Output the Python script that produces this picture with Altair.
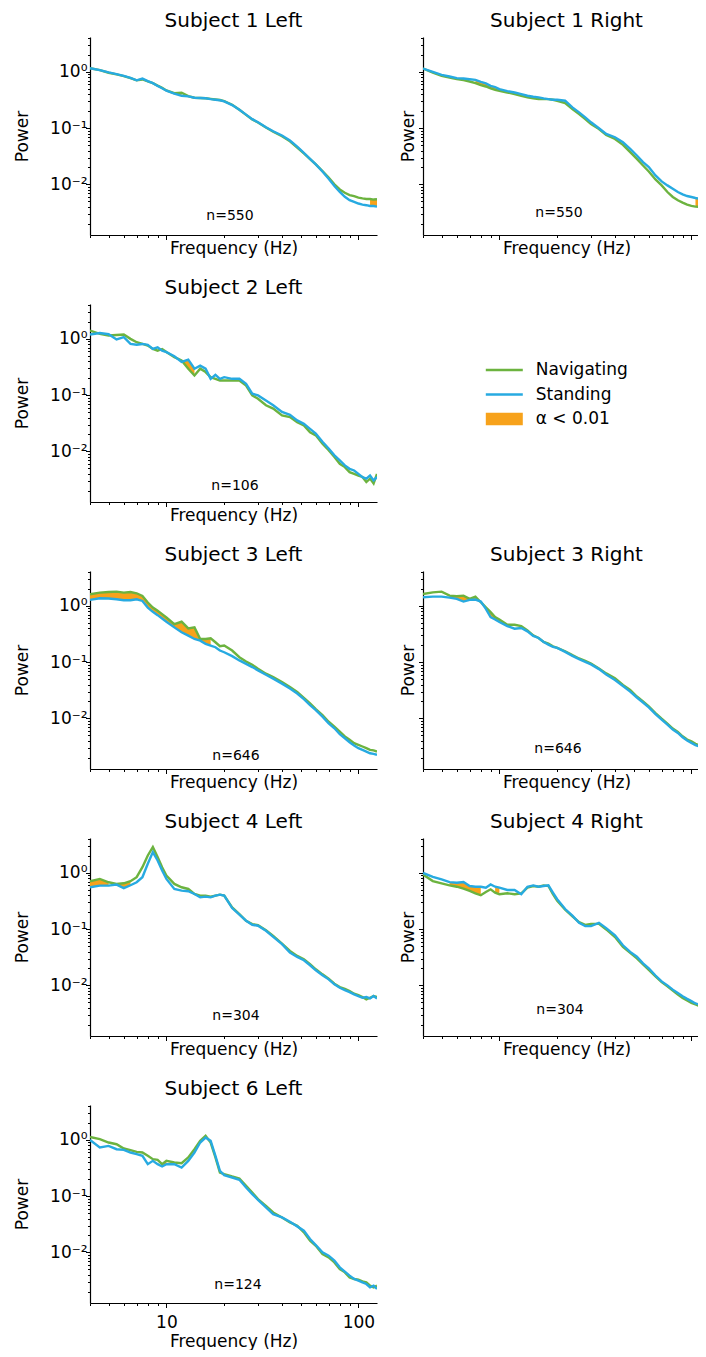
import altair as alt
import numpy as np
import pandas as pd

FONT = "DejaVu Sans"
GREEN = "#6cb33f"
BLUE = "#27aae1"
ORANGE = "#f7a21b"

# frequency grid (Hz)
freqs = [4, 4.5, 5, 5.5, 6, 6.5, 7, 7.5, 8, 8.5, 9, 9.5,
         10, 11, 12, 13, 14, 15, 16, 17, 18, 19, 20,
         22, 24, 26, 28, 30, 33, 36,
         40, 44, 48, 52, 56, 60,
         65, 70, 75, 80, 85, 90, 95, 100, 105, 110, 115, 120, 125]

# log10(power)
s1l_nav = [0.065, 0.03, -0.015, -0.045, -0.075, -0.11, -0.15, -0.135, -0.17, -0.2, -0.245, -0.285,
           -0.33, -0.38, -0.37, -0.43, -0.46, -0.465, -0.47, -0.48, -0.49, -0.5, -0.52,
           -0.585, -0.675, -0.765, -0.845, -0.9, -0.99, -1.065,
           -1.145, -1.235, -1.345, -1.45, -1.55, -1.645,
           -1.765, -1.88, -2.0, -2.09, -2.15, -2.19, -2.21, -2.235, -2.25, -2.26, -2.26, -2.27, -2.265]
s1l_sta = [0.065, 0.03, -0.01, -0.04, -0.07, -0.105, -0.15, -0.12, -0.165, -0.2, -0.25, -0.29,
           -0.335, -0.385, -0.425, -0.435, -0.46, -0.465, -0.47, -0.485, -0.495, -0.505, -0.525,
           -0.59, -0.675, -0.76, -0.84, -0.895, -0.985, -1.055,
           -1.13, -1.22, -1.33, -1.44, -1.545, -1.645,
           -1.77, -1.9, -2.03, -2.135, -2.22, -2.28, -2.31, -2.34, -2.36, -2.37, -2.385, -2.385, -2.395]

s1r_nav = [0.059, -0.012, -0.071, -0.1, -0.13, -0.147, -0.171, -0.201, -0.236, -0.26, -0.295, -0.319,
           -0.336, -0.366, -0.395, -0.425, -0.454, -0.472, -0.484, -0.484, -0.484, -0.496, -0.513,
           -0.554, -0.661, -0.749, -0.838, -0.926, -1.015, -1.121,
           -1.192, -1.298, -1.428, -1.546, -1.664, -1.77,
           -1.912, -2.018, -2.136, -2.224, -2.283, -2.324, -2.36, -2.383, -2.395, -2.401, -2.413, -2.431, -2.442]
s1r_sta = [0.059, 0.0, -0.053, -0.083, -0.112, -0.118, -0.13, -0.142, -0.177, -0.206, -0.248, -0.271,
           -0.307, -0.342, -0.366, -0.395, -0.425, -0.442, -0.454, -0.472, -0.484, -0.496, -0.496,
           -0.513, -0.631, -0.72, -0.808, -0.897, -1.003, -1.103,
           -1.162, -1.251, -1.369, -1.487, -1.605, -1.693,
           -1.841, -1.947, -2.018, -2.077, -2.136, -2.177, -2.207, -2.224, -2.242, -2.254, -2.271, -2.283, -2.313]

s2l_nav = [0.148, 0.09, 0.06, 0.07, 0.077, 0.0, -0.06, -0.09, -0.12, -0.18, -0.21, -0.18,
           -0.235, -0.325, -0.385, -0.53, -0.65, -0.53, -0.59, -0.68, -0.71, -0.74, -0.74,
           -0.74, -0.74, -0.83, -1.005, -1.065, -1.18, -1.24,
           -1.36, -1.39, -1.48, -1.54, -1.66, -1.715,
           -1.865, -1.98, -2.1, -2.22, -2.28, -2.37, -2.4, -2.43, -2.455, -2.545, -2.485, -2.57, -2.4]
s2l_sta = [0.077, 0.105, 0.083, -0.01, 0.03, -0.09, -0.105, -0.09, -0.105, -0.18, -0.15, -0.21,
           -0.235, -0.31, -0.41, -0.37, -0.53, -0.475, -0.53, -0.71, -0.64, -0.71, -0.68,
           -0.71, -0.71, -0.8, -0.975, -1.005, -1.095, -1.18,
           -1.3, -1.35, -1.45, -1.51, -1.6, -1.685,
           -1.83, -1.95, -2.07, -2.16, -2.25, -2.31, -2.34, -2.4, -2.46, -2.485, -2.43, -2.515, -2.455]

s3l_nav = [0.206, 0.235, 0.247, 0.253, 0.235, 0.247, 0.224, 0.176, 0.059, -0.03, -0.088, -0.147,
           -0.206, -0.324, -0.282, -0.4, -0.382, -0.59, -0.588, -0.576, -0.647, -0.718, -0.706,
           -0.794, -0.912, -0.988, -1.047, -1.118, -1.206, -1.265,
           -1.353, -1.441, -1.529, -1.635, -1.735, -1.835,
           -1.94, -2.06, -2.147, -2.235, -2.32, -2.38, -2.44, -2.47, -2.5, -2.53, -2.56, -2.57, -2.59]
s3l_sta = [0.106, 0.135, 0.13, 0.118, 0.1, 0.1, 0.118, 0.088, -0.03, -0.106, -0.165, -0.224,
           -0.282, -0.382, -0.47, -0.53, -0.588, -0.618, -0.676, -0.706, -0.735, -0.794, -0.824,
           -0.894, -0.97, -1.03, -1.088, -1.147, -1.224, -1.294,
           -1.382, -1.47, -1.559, -1.659, -1.765, -1.853,
           -1.97, -2.088, -2.176, -2.282, -2.353, -2.424, -2.482, -2.53, -2.56, -2.59, -2.62, -2.63, -2.647]

s3r_nav = [0.212, 0.241, 0.253, 0.182, 0.171, 0.182, 0.124, 0.165, 0.065, -0.024, -0.112, -0.2,
           -0.241, -0.335, -0.335, -0.359, -0.435, -0.524, -0.571, -0.641, -0.671, -0.718, -0.747,
           -0.806, -0.876, -0.935, -0.976, -1.024, -1.112, -1.2,
           -1.288, -1.406, -1.494, -1.612, -1.7, -1.788,
           -1.906, -2.006, -2.094, -2.182, -2.241, -2.318, -2.376, -2.406, -2.453, -2.476, -2.5, -2.524, -2.54]
s3r_sta = [0.153, 0.165, 0.165, 0.147, 0.124, 0.076, 0.106, 0.112, 0.076, -0.053, -0.2, -0.241,
           -0.288, -0.359, -0.406, -0.394, -0.453, -0.535, -0.571, -0.641, -0.688, -0.729, -0.747,
           -0.818, -0.888, -0.947, -0.994, -1.041, -1.124, -1.218,
           -1.318, -1.424, -1.524, -1.629, -1.718, -1.806,
           -1.924, -2.024, -2.112, -2.2, -2.259, -2.335, -2.394, -2.435, -2.476, -2.5, -2.524, -2.541, -2.56]

s4l_nav = [-0.149, -0.107, -0.167, -0.196, -0.185, -0.149, -0.077, 0.101, 0.31, 0.458, 0.28, 0.101,
           -0.048, -0.196, -0.256, -0.286, -0.375, -0.405, -0.405, -0.423, -0.405, -0.387, -0.405,
           -0.613, -0.732, -0.851, -0.911, -0.929, -1.018, -1.119,
           -1.256, -1.387, -1.476, -1.536, -1.625, -1.714,
           -1.804, -1.881, -1.97, -2.03, -2.06, -2.101, -2.149, -2.173, -2.208, -2.25, -2.22, -2.19, -2.208]
s4l_sta = [-0.256, -0.226, -0.226, -0.208, -0.27, -0.22, -0.167, -0.077, 0.161, 0.369, 0.22, 0.042,
           -0.107, -0.286, -0.315, -0.327, -0.375, -0.435, -0.423, -0.435, -0.405, -0.387, -0.405,
           -0.625, -0.744, -0.851, -0.923, -0.94, -1.03, -1.137,
           -1.268, -1.417, -1.494, -1.554, -1.643, -1.732,
           -1.821, -1.893, -1.982, -2.042, -2.083, -2.119, -2.161, -2.19, -2.22, -2.208, -2.232, -2.19, -2.232]

s4r_nav = [-0.029, -0.146, -0.187, -0.222, -0.246, -0.281, -0.322, -0.363, -0.398, -0.339, -0.292, -0.351,
           -0.38, -0.363, -0.38, -0.363, -0.263, -0.234, -0.246, -0.222, -0.234, -0.38, -0.497,
           -0.655, -0.772, -0.877, -0.924, -0.906, -0.906, -1.006,
           -1.14, -1.316, -1.421, -1.52, -1.626, -1.725,
           -1.842, -1.942, -2.018, -2.094, -2.164, -2.222, -2.269, -2.31, -2.339, -2.368, -2.398, -2.427, -2.44]
s4r_sta = [0.0, -0.07, -0.117, -0.164, -0.175, -0.164, -0.234, -0.246, -0.246, -0.263, -0.205, -0.246,
           -0.263, -0.304, -0.304, -0.38, -0.246, -0.222, -0.246, -0.234, -0.222, -0.351, -0.468,
           -0.643, -0.76, -0.889, -0.947, -0.947, -0.889, -0.982,
           -1.111, -1.287, -1.404, -1.491, -1.608, -1.696,
           -1.825, -1.93, -2.0, -2.076, -2.135, -2.193, -2.24, -2.281, -2.322, -2.339, -2.368, -2.398, -2.41]

s6l_nav = [0.053, 0.012, -0.047, -0.077, -0.154, -0.183, -0.213, -0.225, -0.284, -0.343, -0.355, -0.432,
           -0.373, -0.402, -0.414, -0.314, -0.166, -0.018, 0.071, -0.047, -0.31, -0.58, -0.609,
           -0.651, -0.686, -0.817, -0.935, -1.053, -1.172, -1.29,
           -1.379, -1.467, -1.527, -1.645, -1.793, -1.882,
           -2.03, -2.089, -2.178, -2.296, -2.355, -2.444, -2.473, -2.485, -2.515, -2.533, -2.592, -2.621, -2.592]
s6l_sta = [0.0, -0.136, -0.107, -0.166, -0.178, -0.225, -0.254, -0.284, -0.432, -0.373, -0.432, -0.473,
           -0.432, -0.432, -0.491, -0.373, -0.225, -0.047, 0.041, -0.018, -0.284, -0.55, -0.627,
           -0.669, -0.71, -0.846, -0.964, -1.065, -1.201, -1.32,
           -1.379, -1.456, -1.538, -1.615, -1.763, -1.87,
           -2.0, -2.059, -2.148, -2.266, -2.343, -2.414, -2.473, -2.503, -2.533, -2.562, -2.621, -2.592, -2.651]

# frequency ranges where alpha < 0.01
s1l_sig = [(11, 12), (115, 125)]
s1r_sig = [(7.5, 11), (105, 120)]
s2l_sig = [(12, 14)]
s3l_sig = [(4, 17)]
s3r_sig = [(5.5, 11)]
s4l_sig = [(4, 5), (5.5, 6.5)]
s4r_sig = [(5.5, 8), (9.5, 10.5)]
s6l_sig = [(9.5, 10.5)]

titles = ["Subject 1 Left", "Subject 1 Right", "Subject 2 Left", "Subject 3 Left",
          "Subject 3 Right", "Subject 4 Left", "Subject 4 Right", "Subject 6 Left"]
n_labels = ["n=550", "n=550", "n=106", "n=646", "n=646", "n=304", "n=304", "n=124"]

legend_labels = ["Navigating", "Standing", "α < 0.01"]
legend_colors = [GREEN, BLUE, ORANGE]

YMIN, YMAX = 10 ** -2.9, 10 ** 0.62
FULL_W, H = 287, 198
RIGHT_W = 275

y_values = sorted(set([round(m * 10.0 ** e, 6) for e in (-3, -2, -1, 0) for m in range(1, 10)
                       if YMIN <= m * 10.0 ** e <= YMAX]))
x_all = [4, 5, 6, 7, 8, 9, 10, 20, 30, 40, 50, 60, 70, 80, 90, 100]

color_scale = alt.Scale(domain=legend_labels, range=legend_colors)


def panel(title, nav, sta, sig, nlab, left=True, bottom=False, nx=145, ny=180):
    w = FULL_W if left else RIGHT_W
    xmax = 10 ** (np.log10(4) + (w / FULL_W) * np.log10(125 / 4))
    df = pd.DataFrame({"freq": freqs,
                       "Navigating": 10 ** np.array(nav),
                       "Standing": 10 ** np.array(sta)})
    long = df.melt("freq", var_name="cond", value_name="power")
    parts = []
    for i, (lo, hi) in enumerate(sig):
        sub = df[(df.freq >= lo) & (df.freq <= hi)].copy()
        sub["seg"] = i
        parts.append(sub)
    sigdf = pd.concat(parts)

    xvals = [v for v in x_all if v <= xmax]
    xaxis = alt.Axis(
        values=xvals, labels=bottom,
        labelExpr="datum.value == 10 ? '10' : datum.value == 100 ? '100' : ''",
        tickSize={"condition": {"test": "indexof([10, 100], datum.value) >= 0", "value": 4.5}, "value": 2.5},
        tickColor="black", tickWidth=1, domainColor="black", domainWidth=1.2, grid=False,
        labelFontSize=17, labelColor="black", labelPadding=7, labelOverlap=False, labelFlush=False,
        labelFont=FONT, title="Frequency (Hz)", titleFont=FONT, titleFontSize=17,
        titleFontWeight="normal", titleColor="black", titleBaseline="top", titleAlign="center",
        titleX=143.5, titleY=30 if bottom else 5.5)
    yaxis = alt.Axis(
        values=y_values, labels=left,
        labelExpr="datum.value == 1 ? '10⁰' : datum.value == 0.1 ? '10⁻¹' : datum.value == 0.01 ? '10⁻²' : ''",
        tickSize={"condition": {"test": "indexof([0.01, 0.1, 1], datum.value) >= 0", "value": 4.5}, "value": 2.5},
        tickColor="black", tickWidth=1, domainColor="black", domainWidth=1.2, grid=False,
        labelFontSize=17, labelColor="black", labelPadding=-1.5, labelOverlap=False, labelFlush=False,
        labelFont=FONT, title="Power", titleFont=FONT, titleFontSize=17, titleFontWeight="normal",
        titleColor="black", titleAngle=270, titleBaseline="bottom", titleAlign="center",
        titleX=-58.5 if left else -5.5, titleY=H / 2)
    xs = alt.Scale(type="log", domain=[4, xmax], nice=False)
    ys = alt.Scale(type="log", domain=[YMIN, YMAX], nice=False)

    area = alt.Chart(sigdf).mark_area(color=ORANGE, opacity=1, clip=True).encode(
        x=alt.X("freq:Q", scale=xs, axis=xaxis),
        y=alt.Y("Navigating:Q", scale=ys, axis=yaxis),
        y2="Standing:Q",
        detail="seg:N")
    lines = alt.Chart(long).mark_line(strokeWidth=2.4, clip=True).encode(
        x=alt.X("freq:Q", scale=xs, axis=xaxis),
        y=alt.Y("power:Q", scale=ys, axis=yaxis),
        color=alt.Color("cond:N", scale=color_scale, legend=None))
    txt = alt.Chart(pd.DataFrame({"n": [nlab]})).mark_text(
        font=FONT, fontSize=14, color="black", align="center", baseline="middle").encode(
        text="n:N", x=alt.value(nx), y=alt.value(ny))
    ttl = alt.Chart(pd.DataFrame({"t": [title]})).mark_text(
        font=FONT, fontSize=20, color="black", align="center", baseline="alphabetic").encode(
        text="t:N", x=alt.value(143.5), y=alt.value(-10.5))
    return alt.layer(area, lines, txt, ttl).properties(width=w, height=H)


p1l = panel(titles[0], s1l_nav, s1l_sta, s1l_sig, n_labels[0], nx=140, ny=179)
p1r = panel(titles[1], s1r_nav, s1r_sta, s1r_sig, n_labels[1], left=False, nx=136, ny=176)
p2l = panel(titles[2], s2l_nav, s2l_sta, s2l_sig, n_labels[2], nx=145, ny=182)
p3l = panel(titles[3], s3l_nav, s3l_sta, s3l_sig, n_labels[3], nx=146, ny=185)
p3r = panel(titles[4], s3r_nav, s3r_sta, s3r_sig, n_labels[4], left=False, nx=135, ny=178)
p4l = panel(titles[5], s4l_nav, s4l_sta, s4l_sig, n_labels[5], nx=146, ny=178)
p4r = panel(titles[6], s4r_nav, s4r_sta, s4r_sig, n_labels[6], left=False, nx=137, ny=172)
p6l = panel(titles[7], s6l_nav, s6l_sta, s6l_sig, n_labels[7], bottom=True, nx=148, ny=180)

# legend panel
leg_df = pd.DataFrame({"label": legend_labels})
leg_y = alt.Y("label:N", scale=alt.Scale(type="point", domain=legend_labels, range=[66, 115], padding=0),
              axis=None)
leg_lines = alt.Chart(leg_df).transform_filter(alt.datum.label != legend_labels[2]).mark_tick(
    orient="horizontal", size=37, thickness=2.5, opacity=1).encode(
    x=alt.value(81.3), y=leg_y, color=alt.Color("label:N", scale=color_scale, legend=None))
leg_patch = alt.Chart(leg_df).transform_filter(alt.datum.label == legend_labels[2]).mark_tick(
    orient="horizontal", size=37, thickness=12.7, opacity=1).encode(
    x=alt.value(81.3), y=leg_y, color=alt.Color("label:N", scale=color_scale, legend=None))
leg_text = alt.Chart(leg_df).mark_text(
    font=FONT, fontSize=17, color="black", align="left", baseline="middle").encode(
    x=alt.value(112.7), y=leg_y, text="label:N")
legend = alt.layer(leg_lines, leg_patch, leg_text).properties(width=RIGHT_W, height=H)

PAD_L, PAD_T = 82, 29
SVG_W, SVG_H = 690, 1342

chart = alt.concat(p1l, p1r, p2l, legend, p3l, p3r, p4l, p4r, p6l,
                   columns=2, spacing={"row": 69, "column": 46}, bounds="flush").resolve_scale(
    x="independent", y="independent").properties(
    autosize=alt.AutoSizeParams(type="none"),
    padding={"left": PAD_L, "top": PAD_T, "right": SVG_W - PAD_L, "bottom": SVG_H - PAD_T}
).configure(font=FONT, background="white").configure_view(strokeWidth=0, stroke="transparent")

chart.save("out.html", embed_options={"renderer": "svg", "actions": False})
